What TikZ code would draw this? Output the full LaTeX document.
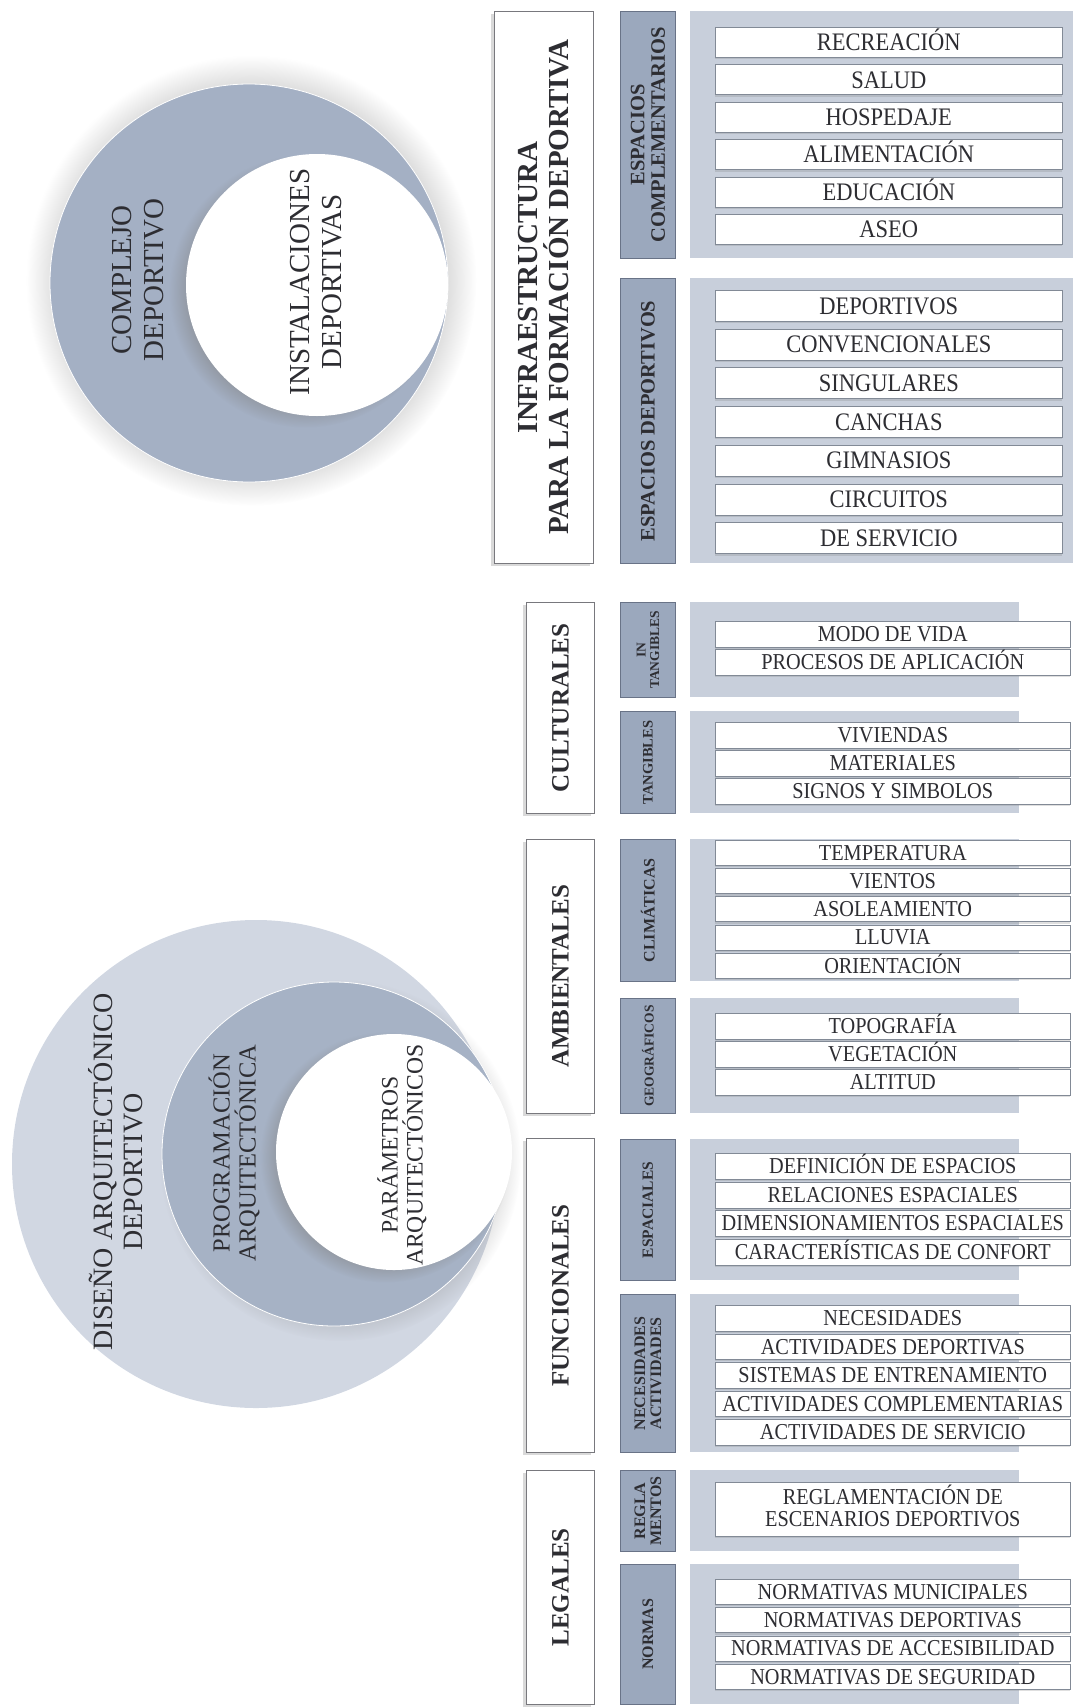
\documentclass[tikz,border=0pt]{standalone}
\usepackage{fontspec}
\setmainfont{Liberation Serif}
\usetikzlibrary{shadows}
\definecolor{txt}{RGB}{45,45,50}
\definecolor{boxline}{RGB}{120,120,125}
\definecolor{tagfill}{RGB}{155,168,189}
\definecolor{tagline}{RGB}{105,115,135}
\definecolor{panelfill}{RGB}{200,207,219}
\definecolor{itemline}{RGB}{130,138,150}
\definecolor{circtop}{RGB}{164,176,196}
\definecolor{circlight}{RGB}{209,215,226}
\definecolor{circmid}{RGB}{166,178,197}
\newcommand{\tall}[1]{\scalebox{1}[1.12]{#1}}

\begin{document}
\begin{tikzpicture}[x=1pt, y=-1pt,
  circ/.style={circle, inner sep=0pt},
  circtxt/.style={rotate=90, align=center, text=txt, inner sep=0pt},
  mainbox/.style={draw=boxline, fill=white, line width=0.8pt, anchor=north west, inner sep=0pt,
    drop shadow={shadow xshift=-3pt, shadow yshift=-3pt, opacity=0.3}},
  maintxt/.style={rotate=90, align=center, text=txt, inner sep=0pt, font=\bfseries\fontsize{25}{27}\selectfont},
  tagbox/.style={draw=tagline, fill=tagfill, line width=0.8pt, anchor=north west, inner sep=0pt},
  tagtxt/.style={rotate=90, align=center, text=txt, inner sep=0pt, font=\bfseries\fontsize{#1}{#1}\selectfont},
  tagtxt/.default=15,
  panel/.style={fill=panelfill, anchor=north west, inner sep=0pt},
  itemtop/.style={draw=itemline, fill=white, line width=0.6pt, anchor=north west, inner sep=0pt,
    minimum width=347pt, text=txt, text height=16.7pt, text depth=0pt, font=\fontsize{22.5}{24}\selectfont,
    drop shadow={shadow xshift=0pt, shadow yshift=-2pt, opacity=0.25}},
  item/.style={draw=itemline, fill=white, line width=0.6pt, anchor=north west, inner sep=0pt,
    minimum width=355pt, text=txt, text height=15pt, text depth=0pt, font=\fontsize{20.3}{21}\selectfont,
    drop shadow={shadow xshift=0pt, shadow yshift=-2pt, opacity=0.25}},
  itemtwo/.style={draw=itemline, fill=white, line width=0.6pt, anchor=north west, inner sep=0pt,
    minimum width=355pt, text=txt, align=center, font=\fontsize{20.3}{20}\selectfont,
    drop shadow={shadow xshift=0pt, shadow yshift=-2pt, opacity=0.25}}]
\useasboundingbox (0,0) rectangle (1073,1708);

% circulos superiores
\node[circ, fill=circtop, draw=white, line width=0.8pt, minimum size=398pt,
  circular drop shadow={shadow xshift=2pt, shadow yshift=2pt, shadow scale=1.13, opacity=0.3}] (complejo) at (249,283) {};
\node[circ, fill=white, minimum size=262pt,
  circular drop shadow={shadow xshift=-11pt, shadow yshift=-6pt, shadow scale=1.04, opacity=0.5}] (instal) at (317,285) {};
\node[circtxt, font=\fontsize{29}{32}\selectfont] (complejoT) at (138,280) {COMPLEJO\\DEPORTIVO};
\node[circtxt, font=\fontsize{29}{32}\selectfont] (instalT) at (316,282) {INSTALACIONES\\DEPORTIVAS};

% circulos inferiores
\node[circ, fill=circlight, minimum size=488pt] (disenio) at (256,1164) {};
\node[circ, fill=circmid, draw=white, line width=0.8pt, minimum size=344pt,
  circular drop shadow={shadow xshift=6pt, shadow yshift=-6pt, shadow scale=1.05, opacity=0.3}] (program) at (334,1154) {};
\node[circ, fill=white, minimum size=236pt,
  circular drop shadow={shadow xshift=-8pt, shadow yshift=-5pt, shadow scale=1.06, opacity=0.5}] (param) at (394,1152) {};
\node[circtxt, font=\fontsize{28}{30}\selectfont] (disenioT) at (116,1172) {DISEÑO ARQUITECTÓNICO\\DEPORTIVO};
\node[circtxt, font=\fontsize{24.5}{26}\selectfont] (programT) at (234,1153) {PROGRAMACIÓN\\ARQUITECTÓNICA};
\node[circtxt, font=\fontsize{23.6}{25}\selectfont] (paramT) at (402,1155) {PARÁMETROS\\ARQUITECTÓNICOS};

% cajas principales
\node[mainbox, minimum width=99pt, minimum height=552pt] (infra) at (494,11) {};
\node[maintxt, font=\bfseries\fontsize{29}{31}\selectfont] (infraT) at (infra.center) {INFRAESTRUCTURA\\PARA LA FORMACIÓN DEPORTIVA};
\node[mainbox, minimum width=68pt, minimum height=211pt] (cult) at (526,602) {};
\node[maintxt] (cultT) at (cult.center) {CULTURALES};
\node[mainbox, minimum width=68pt, minimum height=274pt] (amb) at (526,839) {};
\node[maintxt] (ambT) at (amb.center) {AMBIENTALES};
\node[mainbox, minimum width=68pt, minimum height=314pt] (func) at (526,1138) {};
\node[maintxt] (funcT) at (func.center) {FUNCIONALES};
\node[mainbox, minimum width=68pt, minimum height=234pt] (leg) at (526,1470) {};
\node[maintxt] (legT) at (leg.center) {LEGALES};

% etiquetas y fondos
\foreach \nm/\y/\h/\w in {compl/11/247/383, dep/278/285/383, intang/602/95/329, tang/711/102/329,
  clim/839/142/329, geo/998/115/329, esp/1139/141/329, nec/1294/158/329, regla/1470/81/329, norm/1564/140/329}{
  \node[panel, minimum width=\w pt, minimum height=\h pt] (p\nm) at (690,\y) {};
  \node[tagbox, minimum width=55pt, minimum height=\h pt] (t\nm) at (620,\y) {};
}
\node[tagtxt=20.5] (tcomplT) at (tcompl.center) {ESPACIOS\\COMPLEMENTARIOS};
\node[tagtxt=20.5] (tdepT) at (tdep.center) {ESPACIOS DEPORTIVOS};
\node[tagtxt=13.5] (tintangT) at (tintang.center) {IN\\TANGIBLES};
\node[tagtxt=14.5] (ttangT) at (ttang.center) {TANGIBLES};
\node[tagtxt=16] (tclimT) at (tclim.center) {CLIMÁTICAS};
\node[tagtxt=13.5] (tgeoT) at (tgeo.center) {GEOGRÁFICOS};
\node[tagtxt=15.5] (tespT) at (tesp.center) {ESPACIALES};
\node[tagtxt=16] (tnecT) at (tnec.center) {NECESIDADES\\ACTIVIDADES};
\node[tagtxt=16] (treglaT) at (tregla.center) {REGLA\\MENTOS};
\node[tagtxt=16] (tnormT) at (tnorm.center) {NORMAS};

% elementos
\foreach \t [count=\i from 0] in {RECREACIÓN,SALUD,HOSPEDAJE,ALIMENTACIÓN,EDUCACIÓN,ASEO}
  \node[itemtop, minimum height=30pt] (compl\i) at (715,27+37.4*\i) {\tall{\t}};
\foreach \t [count=\i from 0] in {DEPORTIVOS,CONVENCIONALES,SINGULARES,CANCHAS,GIMNASIOS,CIRCUITOS,DE SERVICIO}
  \node[itemtop, minimum height=31pt] (dep\i) at (715,290+38.7*\i) {\tall{\t}};
\foreach \t [count=\i from 0] in {MODO DE VIDA,PROCESOS DE APLICACIÓN}
  \node[item, minimum height=26pt] (intang\i) at (715,621+28*\i) {\tall{\t}};
\foreach \t [count=\i from 0] in {VIVIENDAS,MATERIALES,SIGNOS Y SIMBOLOS}
  \node[item, minimum height=26pt] (tang\i) at (715,722+28*\i) {\tall{\t}};
\foreach \t [count=\i from 0] in {TEMPERATURA,VIENTOS,ASOLEAMIENTO,LLUVIA,ORIENTACIÓN}
  \node[item, minimum height=25pt] (clim\i) at (715,840+28.2*\i) {\tall{\t}};
\foreach \t [count=\i from 0] in {TOPOGRAFÍA,VEGETACIÓN,ALTITUD}
  \node[item, minimum height=26pt] (geo\i) at (715,1013+28*\i) {\tall{\t}};
\foreach \t [count=\i from 0] in {DEFINICIÓN DE ESPACIOS,RELACIONES ESPACIALES,DIMENSIONAMIENTOS ESPACIALES,CARACTERÍSTICAS DE CONFORT}
  \node[item, minimum height=26pt] (esp\i) at (715,1153+28.5*\i) {\tall{\t}};
\foreach \t [count=\i from 0] in {NECESIDADES,ACTIVIDADES DEPORTIVAS,SISTEMAS DE ENTRENAMIENTO,ACTIVIDADES COMPLEMENTARIAS,ACTIVIDADES DE SERVICIO}
  \node[item, minimum height=25.5pt] (nec\i) at (715,1305+28.5*\i) {\tall{\t}};
\node[itemtwo, minimum height=54pt] (regla0) at (715,1482) {\tall{\begin{tabular}{@{}c@{}}REGLAMENTACIÓN DE\\ESCENARIOS DEPORTIVOS\end{tabular}}};
\foreach \t [count=\i from 0] in {NORMATIVAS MUNICIPALES,NORMATIVAS DEPORTIVAS,NORMATIVAS DE ACCESIBILIDAD,NORMATIVAS DE SEGURIDAD}
  \node[item, minimum height=25pt] (norm\i) at (715,1579+28.3*\i) {\tall{\t}};
\end{tikzpicture}
\end{document}
